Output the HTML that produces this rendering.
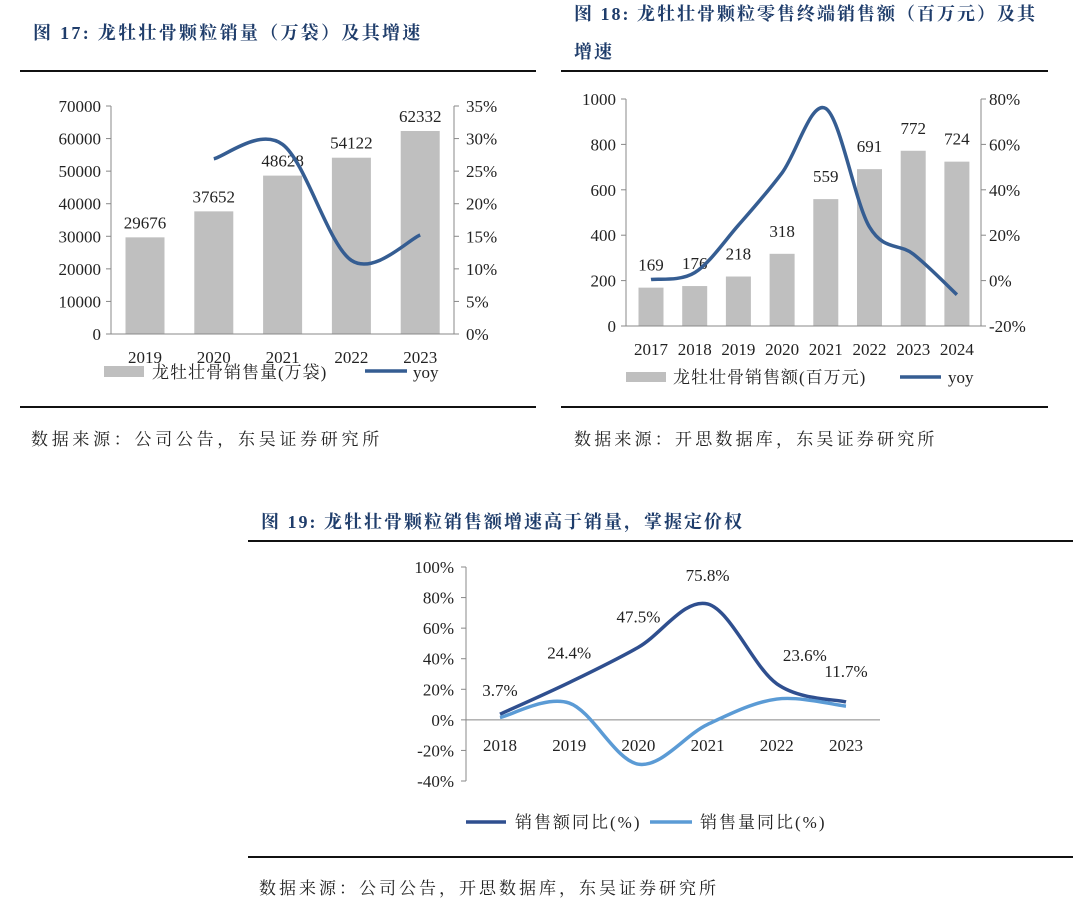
<!DOCTYPE html>
<html><head><meta charset="utf-8">
<style>
body{margin:0;background:#fff;width:1080px;height:909px;overflow:hidden;font-family:"Liberation Serif","Noto Serif CJK SC",serif;}
svg{position:absolute;left:0;top:0}
</style></head>
<body>
<svg id="s" width="1080" height="909" viewBox="0 0 1080 909" xmlns="http://www.w3.org/2000/svg">
<g font-family="Liberation Serif, Noto Serif CJK SC, serif">
<text x="33" y="39" font-size="18" font-weight="bold" fill="#1f3d6b" letter-spacing="2.3">图 17:  龙牡壮骨颗粒销量（万袋）及其增速</text>
<line x1="20" y1="71" x2="536" y2="71" stroke="#111" stroke-width="2"/>
<line x1="20" y1="407" x2="536" y2="407" stroke="#111" stroke-width="2"/>
<text x="31" y="445" font-size="17" fill="#222" letter-spacing="3.7">数据来源：公司公告，东吴证券研究所</text>

<text x="574" y="20" font-size="18" font-weight="bold" fill="#1f3d6b" letter-spacing="2">图 18:  龙牡壮骨颗粒零售终端销售额（百万元）及其</text>
<text x="574" y="58" font-size="18" font-weight="bold" fill="#1f3d6b" letter-spacing="2">增速</text>
<line x1="561" y1="71" x2="1048" y2="71" stroke="#111" stroke-width="2"/>
<line x1="561" y1="407" x2="1048" y2="407" stroke="#111" stroke-width="2"/>
<text x="574" y="445" font-size="17" fill="#222" letter-spacing="3.2">数据来源：开思数据库，东吴证券研究所</text>

<text x="261" y="528" font-size="18" font-weight="bold" fill="#1f3d6b" letter-spacing="2">图 19:  龙牡壮骨颗粒销售额增速高于销量，掌握定价权</text>
<line x1="248" y1="541" x2="1073" y2="541" stroke="#111" stroke-width="2"/>
<line x1="248" y1="857" x2="1073" y2="857" stroke="#111" stroke-width="2"/>
<text x="259" y="894" font-size="17" fill="#222" letter-spacing="3">数据来源：公司公告，开思数据库，东吴证券研究所</text>
</g>
<g id="c1"></g>
<g id="c2"></g>
<g id="c3"></g>
</svg>
<script>
const c1Years=["2019","2020","2021","2022","2023"];
const c1Sales=[29676,37652,48628,54122,62332];
const c1Yoy=[null,26.9,29.1,11.3,15.2];
const c1LeftTicks=[0,10000,20000,30000,40000,50000,60000,70000];
const c1RightTicks=[0,5,10,15,20,25,30,35];

const c2Years=["2017","2018","2019","2020","2021","2022","2023","2024"];
const c2Sales=[169,176,218,318,559,691,772,724];
const c2Yoy=[0.5,3.5,24.4,47.5,75.8,23.6,11.7,-6.2];
const c2LeftTicks=[0,200,400,600,800,1000];
const c2RightTicks=[-20,0,20,40,60,80];

const c3Years=["2018","2019","2020","2021","2022","2023"];
const c3Amount=[3.7,24.4,47.5,75.8,23.6,11.7];
const c3Volume=[1.5,11,-29,-3,13.6,9];
const c3Ticks=[-40,-20,0,20,40,60,80,100];

const NS="http://www.w3.org/2000/svg";
const FONT="Liberation Serif, Noto Serif CJK SC, serif";
function mk(p,tag,a,txt){const e=document.createElementNS(NS,tag);for(const k in a)e.setAttribute(k,a[k]);if(txt!==undefined)e.textContent=txt;p.appendChild(e);return e;}
function smooth(pts){let d="M"+pts[0][0]+","+pts[0][1];for(let i=0;i<pts.length-1;i++){const p0=pts[Math.max(i-1,0)],p1=pts[i],p2=pts[i+1],p3=pts[Math.min(i+2,pts.length-1)];const t=6;d+=" C"+(p1[0]+(p2[0]-p0[0])/t)+","+(p1[1]+(p2[1]-p0[1])/t)+" "+(p2[0]-(p3[0]-p1[0])/t)+","+(p2[1]-(p3[1]-p1[1])/t)+" "+p2[0]+","+p2[1];}return d;}

// Chart 1
(function(){
const g=document.getElementById('c1');
const L=111,R=454,T=106,B=334,step=68.8;
const y=v=>B-(v/70000)*(B-T), yr=v=>B-(v/35)*(B-T), x=i=>145+i*step;
let e;
c1LeftTicks.forEach(t=>{e=mk(g,'line',{x1:L-5,y1:y(t),x2:L,y2:y(t),stroke:'#888'});
e=mk(g,'text',{x:L-10,y:y(t)+6,'text-anchor':'end','font-size':17,fill:'#222','font-family':FONT},String(t));});
c1RightTicks.forEach(t=>{e=mk(g,'line',{x1:R,y1:yr(t),x2:R+5,y2:yr(t),stroke:'#888'});
e=mk(g,'text',{x:R+12,y:yr(t)+6,'font-size':17,fill:'#222','font-family':FONT},t+'%');});
c1Sales.forEach((v,i)=>{e=mk(g,'rect',{x:x(i)-19.5,y:y(v),width:39,height:B-y(v),fill:'#bfbfbf'});
e=mk(g,'text',{x:x(i),y:y(v)-9,'text-anchor':'middle','font-size':17,fill:'#222','font-family':FONT},String(v));
e=mk(g,'text',{x:x(i),y:363,'text-anchor':'middle','font-size':17,fill:'#222','font-family':FONT},c1Years[i]);});
e=mk(g,'line',{x1:L,y1:T,x2:L,y2:B,stroke:'#888'});
e=mk(g,'line',{x1:R,y1:T,x2:R,y2:B,stroke:'#888'});
e=mk(g,'line',{x1:L,y1:B,x2:R,y2:B,stroke:'#888'});
const pts=[];c1Yoy.forEach((v,i)=>{if(v!==null)pts.push([x(i),yr(v)]);});
e=mk(g,'path',{d:smooth(pts),fill:'none',stroke:'#355d92','stroke-width':3.5});
e=mk(g,'rect',{x:104,y:366,width:40,height:11,fill:'#bfbfbf'});
e=mk(g,'text',{x:152,y:378,'font-size':17,fill:'#222','font-family':FONT,'letter-spacing':1},'龙牡壮骨销售量(万袋)');
e=mk(g,'line',{x1:365,y1:371,x2:407,y2:371,stroke:'#355d92','stroke-width':3.5});
e=mk(g,'text',{x:413,y:378,'font-size':17,fill:'#222','font-family':FONT},'yoy');
})();

// Chart 2
(function(){
const g=document.getElementById('c2');
const L=626,R=981,T=99,B=326;
const y=v=>B-(v/1000)*(B-T), yr=v=>B-((v+20)/100)*(B-T), x=i=>651+i*43.7;
let e;
c2LeftTicks.forEach(t=>{e=mk(g,'line',{x1:L-5,y1:y(t),x2:L,y2:y(t),stroke:'#888'});
e=mk(g,'text',{x:L-10,y:y(t)+6,'text-anchor':'end','font-size':17,fill:'#222','font-family':FONT},String(t));});
c2RightTicks.forEach(t=>{e=mk(g,'line',{x1:R,y1:yr(t),x2:R+5,y2:yr(t),stroke:'#888'});
e=mk(g,'text',{x:R+8,y:yr(t)+6,'font-size':17,fill:'#222','font-family':FONT},t+'%');});
c2Sales.forEach((v,i)=>{e=mk(g,'rect',{x:x(i)-12.5,y:y(v),width:25,height:B-y(v),fill:'#bfbfbf'});
e=mk(g,'text',{x:x(i),y:y(v)-17,'text-anchor':'middle','font-size':17,fill:'#222','font-family':FONT},String(v));
e=mk(g,'text',{x:x(i),y:355,'text-anchor':'middle','font-size':17,fill:'#222','font-family':FONT},c2Years[i]);});
e=mk(g,'line',{x1:L,y1:T,x2:L,y2:B,stroke:'#888'});
e=mk(g,'line',{x1:R,y1:T,x2:R,y2:B,stroke:'#888'});
e=mk(g,'line',{x1:L,y1:B,x2:R,y2:B,stroke:'#888'});
const pts=c2Yoy.map((v,i)=>[x(i),yr(v)]);
e=mk(g,'path',{d:smooth(pts),fill:'none',stroke:'#355d92','stroke-width':3.5});
e=mk(g,'rect',{x:626,y:372,width:40,height:10,fill:'#bfbfbf'});
e=mk(g,'text',{x:673,y:383,'font-size':17,fill:'#222','font-family':FONT,'letter-spacing':1},'龙牡壮骨销售额(百万元)');
e=mk(g,'line',{x1:900,y1:377,x2:941,y2:377,stroke:'#355d92','stroke-width':3.5});
e=mk(g,'text',{x:948,y:383,'font-size':17,fill:'#222','font-family':FONT},'yoy');
})();

// Chart 3
(function(){
const g=document.getElementById('c3');
const L=466,T=567,B=781,Rx=880;
const y=v=>B-((v+40)/140)*(B-T), x=i=>500+i*69.2;
let e;
c3Ticks.forEach(t=>{e=mk(g,'line',{x1:L-5,y1:y(t),x2:L,y2:y(t),stroke:'#888'});
e=mk(g,'text',{x:L-12,y:y(t)+6,'text-anchor':'end','font-size':17,fill:'#222','font-family':FONT},t+'%');});
e=mk(g,'line',{x1:L,y1:T,x2:L,y2:B,stroke:'#888'});
e=mk(g,'line',{x1:L,y1:y(0),x2:Rx,y2:y(0),stroke:'#888'});
c3Years.forEach((yy,i)=>{e=mk(g,'text',{x:x(i),y:751,'text-anchor':'middle','font-size':17,fill:'#222','font-family':FONT},yy);});
e=mk(g,'path',{d:smooth(c3Amount.map((v,i)=>[x(i),y(v)])),fill:'none',stroke:'#2f4f8f','stroke-width':3.5});
e=mk(g,'path',{d:smooth(c3Volume.map((v,i)=>[x(i),y(v)])),fill:'none',stroke:'#5b9bd5','stroke-width':3.5});
const off=[[0,-18],[0,-24],[0,-25],[0,-23],[28,-23],[0,-25]];
c3Amount.forEach((v,i)=>{e=mk(g,'text',{x:x(i)+off[i][0],y:y(v)+off[i][1],'text-anchor':'middle','font-size':17,fill:'#222','font-family':FONT},v.toFixed(1)+'%');});
e=mk(g,'line',{x1:466,y1:822,x2:506,y2:822,stroke:'#2f4f8f','stroke-width':3.5});
e=mk(g,'text',{x:515,y:828,'font-size':17,fill:'#222','font-family':FONT,'letter-spacing':2},'销售额同比(%)');
e=mk(g,'line',{x1:650,y1:822,x2:692,y2:822,stroke:'#5b9bd5','stroke-width':3.5});
e=mk(g,'text',{x:700,y:828,'font-size':17,fill:'#222','font-family':FONT,'letter-spacing':2},'销售量同比(%)');
})();
</script>
</body></html>
